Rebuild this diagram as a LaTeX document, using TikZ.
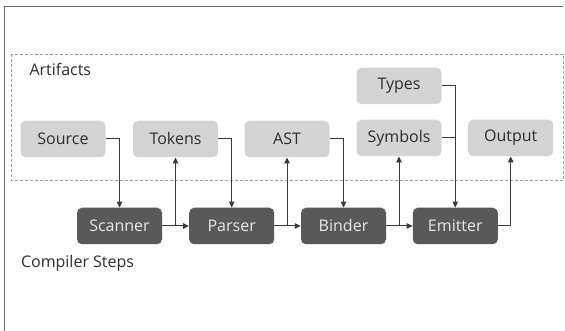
\documentclass[tikz,border=0pt]{standalone}
\usepackage{fontspec}
\setmainfont{Open Sans}
\usetikzlibrary{arrows.meta}
\definecolor{lightbox}{HTML}{D4D4D4}
\definecolor{darkbox}{HTML}{595959}
\definecolor{darktext}{HTML}{2E2E2E}
\definecolor{lighttext}{HTML}{E8E8E8}
\definecolor{linecol}{HTML}{3A3A3A}
\definecolor{framecol}{HTML}{6E6E6E}
\definecolor{dashcol}{HTML}{A0A0A0}
\tikzset{
  boxbase/.style={rounded corners=5pt, minimum width=85pt, minimum height=36.5pt, inner sep=0pt,
    font=\fontsize{16pt}{19pt}\selectfont},
  artbox/.style={boxbase, fill=lightbox, text=darktext},
  stepbox/.style={boxbase, fill=darkbox, text=lighttext},
  lbl/.style={anchor=base west, inner sep=0pt, text=darktext, font=\fontsize{16pt}{19pt}\selectfont},
  conn/.style={draw=linecol, line width=1pt, -{Triangle[length=6pt,width=5.5pt]}},
  plain/.style={draw=linecol, line width=1pt}
}
\begin{document}
\begin{tikzpicture}[x=1pt,y=-1pt]
\useasboundingbox (0,0) rectangle (565,331);
% frame (left and top edges visible)
\draw[framecol, line width=1.3pt] (4.5,331) -- (4.5,6.5) -- (563,6.5);
% artifacts dashed region
\draw[dashcol, line width=0.8pt, dash pattern=on 3pt off 2pt] (11.3,54) rectangle (563,180.7);
\node[lbl] (artl) at (29.3,76) {Artifacts};
\node[lbl] (stepl) at (20.8,268) {Compiler Steps};
% artifacts
\node[artbox] (src) at (63,139) {Source};
\node[artbox] (tok) at (175.5,139) {Tokens};
\node[artbox] (ast) at (287,139) {AST};
\node[artbox] (sym) at (399,138) {Symbols};
\node[artbox] (typ) at (399,86) {Types};
\node[artbox] (out) at (510.7,138) {Output};
% steps
\node[stepbox] (scan) at (119.5,226) {Scanner};
\node[stepbox] (pars) at (231.7,226) {Parser};
\node[stepbox] (bind) at (343.5,226) {Binder};
\node[stepbox] (emit) at (455.3,226) {Emitter};
% connectors
\draw[conn] (src.east) -| (scan.north);
\draw[conn] (scan.east) -- (pars.west);
\draw[conn] (scan.east) -| (tok.south);
\draw[conn] (tok.east) -| (pars.north);
\draw[conn] (pars.east) -- (bind.west);
\draw[conn] (pars.east) -| (ast.south);
\draw[conn] (ast.east) -| (bind.north);
\draw[conn] (bind.east) -- (emit.west);
\draw[conn] (bind.east) -| (sym.south);
\draw[conn] (typ.east) -| (emit.north);
\draw[plain] (sym.east) -- (sym.east -| emit.north);
\draw[conn] (emit.east) -| (out.south);
\end{tikzpicture}
\end{document}
